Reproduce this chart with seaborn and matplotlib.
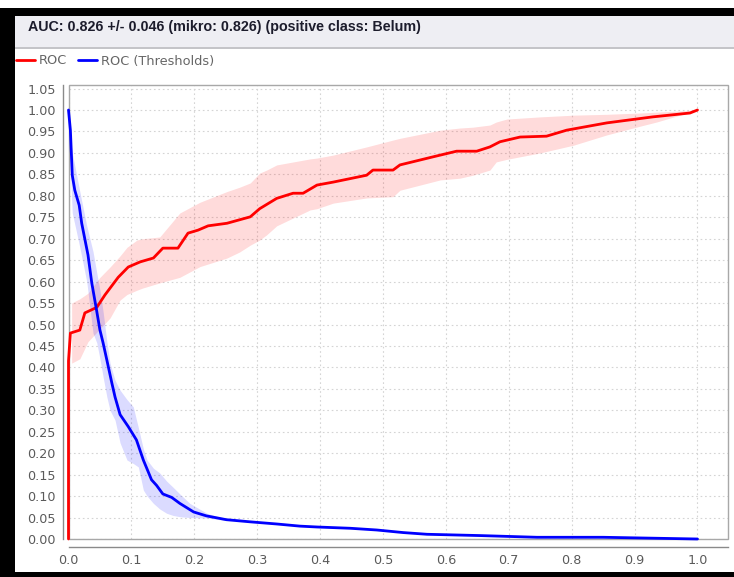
import matplotlib
matplotlib.use("Agg")
import matplotlib.pyplot as plt
from matplotlib.patches import Rectangle
from matplotlib.lines import Line2D
import seaborn as sns

# === Data ===
TITLE = "AUC: 0.826 +/- 0.046 (mikro: 0.826) (positive class: Belum)"
SERIES = ["ROC", "ROC (Thresholds)"]

roc_fpr = [0, 0, 0.003, 0.018, 0.026, 0.045, 0.058, 0.079, 0.095, 0.114, 0.135, 0.15, 0.174,
           0.19, 0.206, 0.222, 0.252, 0.289, 0.304, 0.331, 0.357, 0.373, 0.395, 0.421, 0.474,
           0.484, 0.516, 0.527, 0.58, 0.617, 0.649, 0.67, 0.686, 0.718, 0.76, 0.792, 0.856,
           0.929, 0.988, 1.0]
roc_tpr = [0, 0.415, 0.48, 0.487, 0.527, 0.54, 0.569, 0.61, 0.634, 0.646, 0.655, 0.678, 0.678,
           0.713, 0.72, 0.73, 0.736, 0.751, 0.77, 0.794, 0.806, 0.806, 0.825, 0.832, 0.848,
           0.86, 0.86, 0.872, 0.891, 0.904, 0.904, 0.914, 0.926, 0.937, 0.939, 0.953, 0.97,
           0.984, 0.993, 1.0]

roc_band_x = [0.005, 0.018, 0.031, 0.05, 0.066, 0.082, 0.093, 0.109, 0.118, 0.145, 0.177, 0.209,
              0.252, 0.272, 0.289, 0.304, 0.315, 0.331, 0.384, 0.395, 0.421, 0.474, 0.516, 0.527,
              0.591, 0.622, 0.643, 0.67, 0.68, 0.697, 0.75, 0.803, 0.856, 0.908, 0.935, 1.0]
roc_band_hi = [0.55, 0.56, 0.573, 0.61, 0.634, 0.66, 0.68, 0.697, 0.70, 0.704, 0.76, 0.785,
               0.81, 0.82, 0.83, 0.853, 0.86, 0.872, 0.886, 0.888, 0.895, 0.914, 0.93, 0.934,
               0.953, 0.958, 0.96, 0.965, 0.972, 0.979, 0.984, 0.988, 0.99, 0.993, 0.995, 1.0]
roc_band_lo = [0.41, 0.42, 0.46, 0.49, 0.515, 0.557, 0.57, 0.58, 0.585, 0.597, 0.61, 0.635,
               0.655, 0.669, 0.685, 0.697, 0.709, 0.73, 0.767, 0.77, 0.783, 0.795, 0.798, 0.813,
               0.837, 0.841, 0.848, 0.86, 0.879, 0.885, 0.9, 0.918, 0.942, 0.962, 0.972, 1.0]

thr_x = [0, 0.003, 0.006, 0.010, 0.017, 0.021, 0.031, 0.037, 0.045, 0.05, 0.055, 0.061, 0.069,
         0.074, 0.082, 0.095, 0.108, 0.119, 0.132, 0.140, 0.150, 0.164, 0.177, 0.199, 0.219,
         0.251, 0.289, 0.331, 0.368, 0.395, 0.448, 0.490, 0.532, 0.570, 0.654, 0.745, 0.85, 1.0]
thr_y = [1.0, 0.953, 0.848, 0.813, 0.778, 0.736, 0.662, 0.597, 0.53, 0.487, 0.457, 0.417, 0.363,
         0.331, 0.29, 0.262, 0.231, 0.184, 0.138, 0.125, 0.105, 0.097, 0.083, 0.063, 0.054,
         0.045, 0.040, 0.035, 0.030, 0.028, 0.025, 0.021, 0.015, 0.011, 0.008, 0.004, 0.004, 0.0]

thr_band_x = [0.003, 0.006, 0.018, 0.029, 0.034, 0.039, 0.045, 0.05, 0.055, 0.061, 0.066, 0.074,
              0.082, 0.093, 0.103, 0.111, 0.119, 0.125, 0.135, 0.145, 0.156, 0.166, 0.177, 0.193,
              0.22, 0.25]
thr_band_hi = [0.93, 0.90, 0.81, 0.73, 0.70, 0.67, 0.62, 0.58, 0.53, 0.46, 0.41, 0.37, 0.347,
               0.325, 0.308, 0.26, 0.21, 0.184, 0.165, 0.154, 0.135, 0.121, 0.105, 0.083, 0.06,
               0.047]
thr_band_lo = [0.86, 0.76, 0.68, 0.60, 0.54, 0.48, 0.457, 0.42, 0.378, 0.331, 0.30, 0.277, 0.224,
               0.184, 0.176, 0.168, 0.114, 0.1, 0.083, 0.07, 0.06, 0.055, 0.052, 0.05, 0.049,
               0.043]

x_ticks = [i / 10 for i in range(11)]
y_ticks = [i / 20 for i in range(22)]

# === Figure / screenshot frame ===
W, H = 734, 577
sns.set_style("white")
plt.rcParams["font.family"] = ["DejaVu Sans"]

fig = plt.figure(figsize=(W / 100, H / 100), dpi=100)


def fx(x):
    return x / W


def fy(y):
    return 1 - y / H


def box(x0, y0, x1, y1, **kw):
    fig.add_artist(Rectangle((fx(x0), fy(y1)), fx(x1) - fx(x0), fy(y0) - fy(y1),
                             transform=fig.transFigure, lw=0, **kw))


box(0, 8, W, 16, color="black")
box(0, 8, 15, H, color="black")
box(0, 572, W, H, color="black")
box(15, 16, W, 47, color="#eeeef3")
box(15, 47, W, 48.5, color="#c4c4c8")

fig.text(fx(28), fy(27.5), TITLE, fontsize=10.3, fontweight="bold", color="#1c1c2c",
         family=["Liberation Sans", "DejaVu Sans"], va="center", ha="left")

# === Plot area ===
left, right, top, bottom = 68.5, 728, 85, 539
ax = fig.add_axes([fx(left), fy(bottom), fx(right) - fx(left), fy(top) - fy(bottom)])

ax.fill_between(roc_band_x, roc_band_lo, roc_band_hi, color="red", alpha=0.14, lw=0)
ax.fill_between(thr_band_x, thr_band_lo, thr_band_hi, color="blue", alpha=0.14, lw=0)
sns.lineplot(x=roc_fpr, y=roc_tpr, ax=ax, color="#ff0000", lw=2.0, estimator=None, sort=False,
             zorder=6, clip_on=False)
sns.lineplot(x=thr_x, y=thr_y, ax=ax, color="#0000ff", lw=2.0, estimator=None, sort=False,
             zorder=6, clip_on=False)

ax.set_xlim(0, 1.0485)
ax.set_ylim(0, 1.0583)
ax.set_xticks(x_ticks)
ax.set_xticklabels([f"{t:.1f}" for t in x_ticks])
ax.set_yticks(y_ticks)
ax.set_yticklabels([f"{t:.2f}" for t in y_ticks])
ax.grid(True, color="#d4d4d4", lw=0.8, ls=(0, (1.5, 2.5)))
ax.set_axisbelow(True)

for s in ["top", "right"]:
    ax.spines[s].set_visible(False)
ax.spines["left"].set_position(("outward", 4.3))
ax.spines["bottom"].set_position(("outward", 5.8))
for s in ["left", "bottom"]:
    ax.spines[s].set_color("#8a8a8a")
    ax.spines[s].set_linewidth(1.0)
ax.add_patch(Rectangle((0, 0), 1, 1, transform=ax.transAxes, fill=False,
                       edgecolor="#a8a8a8", lw=1.0, clip_on=False, zorder=5))
ax.tick_params(axis="both", direction="out", length=3, width=0.8, color="#8a8a8a",
               labelsize=9.2, labelcolor="#5a5a5a", pad=2)
ax.set_xlabel("")
ax.set_ylabel("")

# === Legend ===
handles = [Line2D([], [], color="#ff0000", lw=2.0), Line2D([], [], color="#0000ff", lw=2.0)]
fig.legend(handles, SERIES, loc="center left", bbox_to_anchor=(fx(16), fy(61)), ncol=2,
           frameon=False, fontsize=9.3, labelcolor="#666666", handlelength=1.45,
           handletextpad=0.3, columnspacing=0.9, borderpad=0, borderaxespad=0)

fig.savefig("out.png", dpi=100)
